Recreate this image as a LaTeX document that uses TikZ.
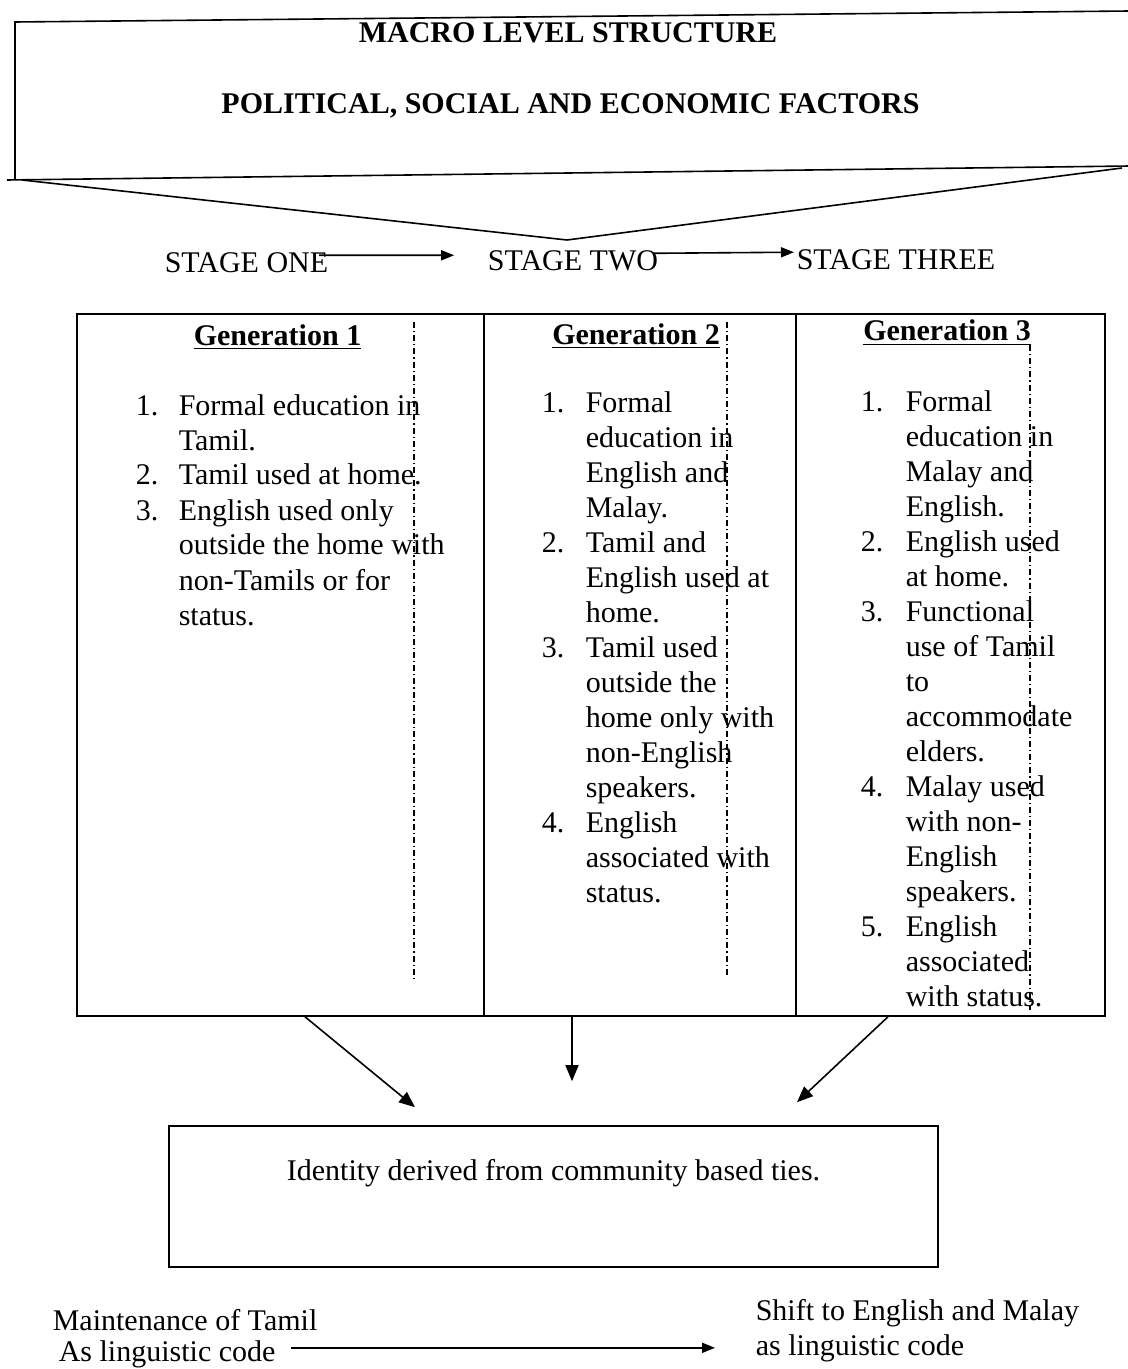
\documentclass[tikz,border=0pt]{standalone}
\usepackage{fontspec}
\setmainfont{Liberation Serif}
\usetikzlibrary{arrows.meta,calc}
\begin{document}
\begin{tikzpicture}[x=0.5pt,y=-0.5pt,line width=0.8pt,
  every node/.style={inner sep=0pt,font=\fontsize{15}{17.5}\selectfont},
  arr/.style={-{Triangle[length=6.5pt,width=5pt]}},
  bigarr/.style={-{Triangle[length=8pt,width=6.5pt]}},
  colbox/.style={draw,minimum height=351pt},
  dd/.style={line width=0.7pt,dash pattern=on 3pt off 1.5pt on 0.6pt off 1.5pt},
  head/.style={anchor=base,font=\fontsize{15}{17.5}\selectfont\bfseries},
  lst/.style={anchor=base west}]
\useasboundingbox (0,0) rectangle (1128,1369);
% macro level banner
\draw (15,180) -- (15,22) -- (1130,11);
\draw (7,180) -- (1130,166);
\draw (22,180) -- (567,240) -- (1122,168);
\node[head] (t1) at (568,43) {MACRO LEVEL STRUCTURE};
\node[head] (t2) at (570.5,114) {POLITICAL, SOCIAL AND ECONOMIC FACTORS};
% stages
\node[anchor=base] (s1) at (246.5,273) {STAGE ONE};
\node[anchor=base] (s2) at (573,271) {STAGE TWO};
\node[anchor=base] (s3) at (896,270) {STAGE THREE};
\draw[arr] ([xshift=-5pt,yshift=4pt]s1.east) -- ([xshift=-16.5pt,yshift=3pt]s2.west);
\draw[arr] ([xshift=-2.5pt,yshift=4pt]s2.east) -- ([xshift=-1pt,yshift=4pt]s3.west);
% columns
\node[colbox,minimum width=203.5pt] (col1) at (280.5,665) {};
\node[colbox,minimum width=156pt] (col2) at (640,665) {};
\node[colbox,minimum width=154.5pt] (col3) at (950.5,665) {};
\node[head] (h1) at (277.5,345) {\underline{Generation 1}};
\node[head] (h2) at (636,344) {\underline{Generation 2}};
\node[head] (h3) at (947,341) {\underline{Generation 3}};
\node[lst] (l1) at (135,415) {\begin{tabular}[t]{@{}p{21.5pt}@{}l@{}}
1.&Formal education in\\
&Tamil.\\
2.&Tamil used at home.\\
3.&English used only\\
&outside the home with\\
&non-Tamils or for\\
&status.
\end{tabular}};
\node[lst] (l2) at (541,412) {\begin{tabular}[t]{@{}p{22pt}@{}l@{}}
1.&Formal\\
&education in\\
&English and\\
&Malay.\\
2.&Tamil and\\
&English used at\\
&home.\\
3.&Tamil used\\
&outside the\\
&home only with\\
&non-English\\
&speakers.\\
4.&English\\
&associated with\\
&status.
\end{tabular}};
\node[lst] (l3) at (860,411) {\begin{tabular}[t]{@{}p{22.5pt}@{}l@{}}
1.&Formal\\
&education in\\
&Malay and\\
&English.\\
2.&English used\\
&at home.\\
3.&Functional\\
&use of Tamil\\
&to\\
&accommodate\\
&elders.\\
4.&Malay used\\
&with non-\\
&English\\
&speakers.\\
5.&English\\
&associated\\
&with status.
\end{tabular}};
\draw[dd] (414,322) -- (414,982);
\draw[dd] (727,322) -- (727,975);
\draw[dd] (1030,345) -- (1030,1010);
% identity box
\node[draw,minimum width=384.5pt,minimum height=70.5pt] (id) at (553.5,1196.5) {};
\node (idt) at (553.5,1173) {Identity derived from community based ties.};
\draw[bigarr] ([xshift=12.25pt]col1.south) -- ([xshift=-69.25pt,yshift=9pt]id.north);
\draw[bigarr] ([xshift=-34pt]col2.south) -- ([xshift=9.25pt,yshift=22pt]id.north);
\draw[bigarr] ([xshift=-31.25pt]col3.south) -- ([xshift=121.75pt,yshift=11.5pt]id.north);
% bottom
\node[lst] (m1) at (52,1330) {Maintenance of Tamil};
\node[lst] (m2) at (58,1361) {As linguistic code};
\node[lst] (sh1) at (755,1320) {Shift to English and Malay};
\node[lst] (sh2) at (755,1355) {as linguistic code};
\draw[arr] ([xshift=7.5pt,yshift=3pt]m2.east) -- ([xshift=-20pt,yshift=3pt]sh2.west |- m2.east);
\end{tikzpicture}
\end{document}
